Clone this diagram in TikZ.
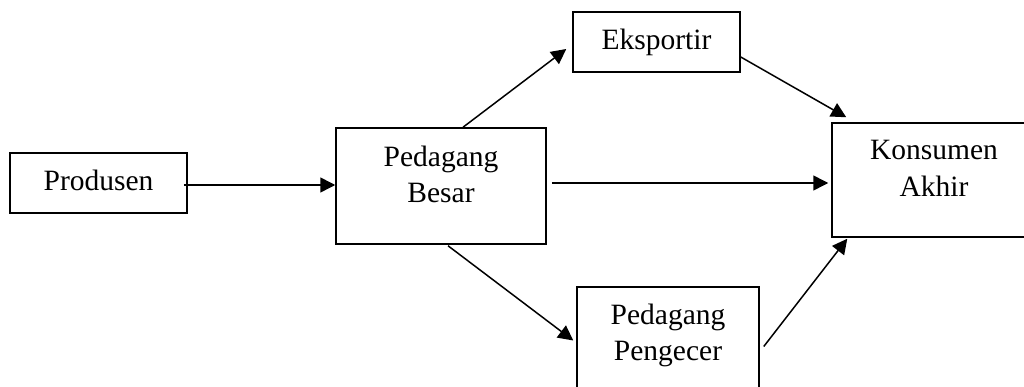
\documentclass[tikz,border=0pt]{standalone}
\usepackage{fontspec}
\setmainfont{Liberation Serif}
\usetikzlibrary{arrows.meta}
\begin{document}
\begin{tikzpicture}[x=1pt,y=-1pt,
  box/.style={draw,line width=1.5pt,inner sep=0pt},
  txt/.style={anchor=base,inner sep=0pt,font=\fontsize{29.5}{36}\selectfont},
  arr/.style={line width=1.5pt,-{Triangle[length=15pt,width=15pt]}}]
\clip (0,0) rectangle (1024,387);
\fill[white] (0,0) rectangle (1024,387);
\node[box,minimum width=177pt,minimum height=60pt] (prod) at (98.5,183) {};
\node[box,minimum width=210pt,minimum height=116pt] (pb) at (441,186) {};
\node[box,minimum width=167pt,minimum height=60pt] (eks) at (656.5,42) {};
\node[box,minimum width=204pt,minimum height=114pt] (kon) at (934,180) {};
\node[box,minimum width=182pt,minimum height=115pt] (pen) at (668,344.5) {};
\node[txt] (prodt) at ([yshift=-38pt]prod.north) {Produsen};
\node[txt] (pbt1) at ([yshift=-39pt]pb.north) {Pedagang};
\node[txt] (pbt2) at ([yshift=-75pt]pb.north) {Besar};
\node[txt] (ekst) at ([yshift=-38pt]eks.north) {Eksportir};
\node[txt] (kont1) at ([yshift=-37pt]kon.north) {Konsumen};
\node[txt] (kont2) at ([yshift=-74pt]kon.north) {Akhir};
\node[txt] (pent1) at ([yshift=-38pt]pen.north) {Pedagang};
\node[txt] (pent2) at ([yshift=-74pt]pen.north) {Pengecer};
\draw[arr] ([xshift=-4pt,yshift=-2pt]prod.east) -- ([yshift=1pt]pb.west);
\draw[arr] ([xshift=22pt]pb.north) -- ([xshift=-6pt,yshift=-7pt]eks.west);
\draw[arr] ([xshift=5pt,yshift=3pt]pb.east) -- ([xshift=-3pt,yshift=-3pt]kon.west);
\draw[arr] ([yshift=-15pt]eks.east) -- ([xshift=15pt,yshift=5pt]kon.north west);
\draw[arr] ([xshift=7pt,yshift=-1pt]pb.south) -- ([xshift=-3pt,yshift=4pt]pen.west);
\draw[arr] ([xshift=4pt,yshift=-2pt]pen.east) -- ([xshift=16pt,yshift=-1pt]kon.south west);
\end{tikzpicture}
\end{document}
